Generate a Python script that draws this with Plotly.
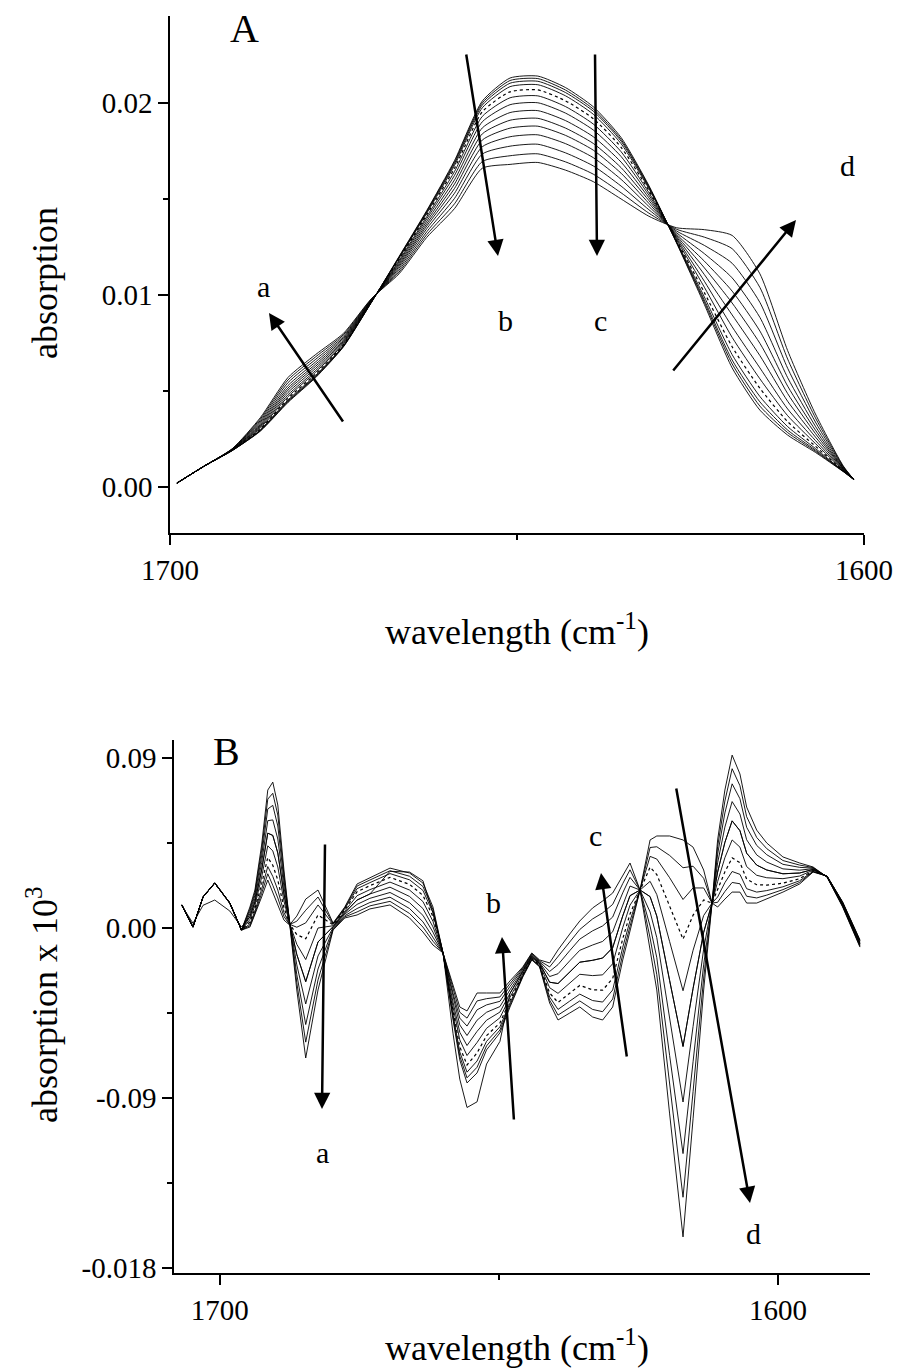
import plotly.graph_objects as go

# ---------------- Panel A data (absorption vs wavenumber) ----------------
wA = [1699, 1695, 1691, 1687, 1683, 1679, 1675, 1671, 1667, 1663, 1659, 1655, 1651,
      1647, 1643, 1639, 1635, 1631, 1627, 1623, 1619, 1615, 1611, 1607, 1603, 1601.5]

a00 = [0.0002, 0.0011, 0.0019, 0.0029, 0.0044, 0.0057, 0.0073, 0.0096, 0.0120, 0.0144, 0.0170, 0.0201, 0.0213, 0.0214, 0.0208, 0.0198, 0.0182, 0.0157, 0.0127, 0.0095, 0.0062, 0.0040, 0.0027, 0.0018, 0.0008, 0.0004]
a01 = [0.0002, 0.0011, 0.0019, 0.00292, 0.00444, 0.00574, 0.00732, 0.00961, 0.01197, 0.01436, 0.01693, 0.0200, 0.02117, 0.02127, 0.02067, 0.01968, 0.0181, 0.01565, 0.01272, 0.00962, 0.00641, 0.00421, 0.00283, 0.00186, 0.00081, 0.0004]
a02 = [0.0002, 0.0011, 0.00191, 0.00294, 0.00448, 0.00577, 0.00734, 0.00961, 0.01195, 0.01432, 0.01685, 0.01989, 0.02103, 0.02113, 0.02054, 0.01957, 0.01801, 0.0156, 0.01275, 0.00973, 0.00661, 0.00443, 0.00296, 0.00192, 0.00082, 0.0004]
a03 = [0.0002, 0.0011, 0.00191, 0.00297, 0.00453, 0.00582, 0.00737, 0.00962, 0.01191, 0.01426, 0.01675, 0.01975, 0.02085, 0.02095, 0.02037, 0.01941, 0.01788, 0.01554, 0.01278, 0.00989, 0.00689, 0.00471, 0.00314, 0.0020, 0.00083, 0.0004]
a04 = [0.0002, 0.0011, 0.00192, 0.00301, 0.00461, 0.00589, 0.00741, 0.00963, 0.01186, 0.01418, 0.0166, 0.01954, 0.02058, 0.02068, 0.02011, 0.01918, 0.01769, 0.01544, 0.01283, 0.01012, 0.0073, 0.00514, 0.0034, 0.00212, 0.00085, 0.0004]
a05 = [0.0002, 0.0011, 0.00192, 0.00306, 0.0047, 0.00598, 0.00746, 0.00965, 0.01179, 0.01408, 0.01643, 0.0193, 0.02027, 0.02037, 0.01981, 0.0189, 0.01746, 0.01533, 0.01288, 0.0104, 0.00779, 0.00563, 0.00371, 0.00226, 0.00087, 0.0004]
a06 = [0.0002, 0.0011, 0.00193, 0.00312, 0.0048, 0.00607, 0.00752, 0.00966, 0.01172, 0.01397, 0.01623, 0.01902, 0.01991, 0.02001, 0.01947, 0.01859, 0.01721, 0.0152, 0.01295, 0.01071, 0.00834, 0.0062, 0.00406, 0.00242, 0.00089, 0.0004]
a07 = [0.0002, 0.0011, 0.00194, 0.00318, 0.00492, 0.00618, 0.00758, 0.00968, 0.01164, 0.01384, 0.0160, 0.0187, 0.0195, 0.0196, 0.01908, 0.01824, 0.01692, 0.01506, 0.01302, 0.01106, 0.00896, 0.00684, 0.00446, 0.0026, 0.00092, 0.0004]
a08 = [0.0002, 0.0011, 0.00195, 0.00324, 0.00504, 0.00629, 0.00764, 0.0097, 0.01156, 0.01371, 0.01578, 0.01839, 0.0191, 0.0192, 0.01869, 0.01789, 0.01663, 0.01492, 0.01309, 0.01141, 0.00958, 0.00748, 0.00486, 0.00278, 0.00095, 0.0004]
a09 = [0.0002, 0.0011, 0.00196, 0.00331, 0.00515, 0.0064, 0.00771, 0.00972, 0.01148, 0.01359, 0.01555, 0.01807, 0.01869, 0.01879, 0.01831, 0.01754, 0.01634, 0.01477, 0.01316, 0.01176, 0.0102, 0.00812, 0.00525, 0.00296, 0.00097, 0.0004]
a10 = [0.0002, 0.0011, 0.00197, 0.00338, 0.00528, 0.00652, 0.00778, 0.00974, 0.01139, 0.01345, 0.0153, 0.01772, 0.01824, 0.01834, 0.01788, 0.01715, 0.01602, 0.01461, 0.01324, 0.01215, 0.01089, 0.00883, 0.00569, 0.00316, 0.0010, 0.0004]
a11 = [0.0002, 0.0011, 0.00198, 0.00345, 0.00543, 0.00665, 0.00785, 0.00976, 0.01129, 0.01329, 0.01503, 0.01734, 0.01775, 0.01785, 0.0174, 0.01672, 0.01567, 0.01444, 0.01333, 0.01258, 0.01165, 0.00961, 0.00618, 0.00338, 0.00104, 0.0004]
a12 = [0.0002, 0.0011, 0.00199, 0.00353, 0.00557, 0.00678, 0.00793, 0.00978, 0.01119, 0.01314, 0.01475, 0.01695, 0.01725, 0.01735, 0.01693, 0.01629, 0.01532, 0.01426, 0.01342, 0.01301, 0.01241, 0.01039, 0.00666, 0.0036, 0.00107, 0.0004]
a13 = [0.0002, 0.0011, 0.0020, 0.0036, 0.0057, 0.0069, 0.0080, 0.0098, 0.0111, 0.0130, 0.0145, 0.0166, 0.0168, 0.0169, 0.0165, 0.0159, 0.0150, 0.0141, 0.0135, 0.0134, 0.0131, 0.0111, 0.0071, 0.0038, 0.0011, 0.0004]

spectra_A = [a00, a01, a02, a03, a04, a05, a06, a07, a08, a09, a10, a11, a12, a13]
dotted_A = 4

# ---------------- Panel B data (difference / derivative spectra) ----------------
wB = [1706.8, 1704.8, 1703.0, 1700.9, 1698.2, 1696.1, 1694.6, 1693.7, 1692.5, 1691.4,
      1690.5, 1689.6, 1688.5, 1687.5, 1686.2, 1684.6, 1682.4, 1679.7, 1677.6, 1675.4,
      1673.1, 1669.5, 1666.0, 1663.6, 1661.8, 1660.0, 1658.2, 1657.0, 1655.7, 1653.9,
      1652.2, 1649.8, 1648.0, 1645.7, 1644.1, 1642.7, 1640.9, 1639.4, 1637.3, 1635.5,
      1633.2, 1631.4, 1629.6, 1627.8, 1626.5, 1624.7, 1622.9, 1621.7, 1619.4, 1617.0,
      1615.2, 1613.3, 1611.8, 1610.8, 1609.5, 1608.2, 1606.8, 1605.6, 1603.8, 1602.0,
      1599.1, 1596.1, 1593.7, 1591.2, 1588.4, 1585.3]

b0 = [0.0122, 0.0005, 0.0164, 0.0238, 0.0132, -0.0011, 0.0005, 0.0069, 0.0164, 0.0254, 0.0185, 0.0122, 0.0042, 0.0016, 0.0063, 0.0153, 0.0201, 0.0026, 0.0111, 0.0233, 0.0265, 0.0317, 0.0291, 0.0238, 0.0111, -0.0132, -0.0487, -0.0698, -0.0820, -0.0767, -0.0645, -0.0555, -0.0418, -0.0259, -0.0169, -0.0206, -0.0397, -0.0487, -0.0450, -0.0418, -0.0471, -0.0487, -0.0418, -0.0169, -0.0016, 0.0201, 0.0466, 0.0487, 0.0487, 0.0466, 0.0428, 0.0307, 0.0132, 0.0111, 0.0153, 0.0190, 0.0190, 0.0132, 0.0132, 0.0153, 0.0190, 0.0233, 0.0296, 0.0275, 0.0138, -0.0063]
b1 = [0.0122, 0.0005, 0.0164, 0.0238, 0.0132, -0.0011, 0.0012, 0.0078, 0.0183, 0.0287, 0.0226, 0.0159, 0.0061, 0.0018, 0.0036, 0.0094, 0.0164, 0.0023, 0.0107, 0.0222, 0.0254, 0.0303, 0.0274, 0.0220, 0.0097, -0.0132, -0.0474, -0.0678, -0.0793, -0.0737, -0.0624, -0.0540, -0.0408, -0.0255, -0.0166, -0.0203, -0.0382, -0.0461, -0.0421, -0.0386, -0.0431, -0.0443, -0.0376, -0.0138, 0.0009, 0.0201, 0.0426, 0.0430, 0.0384, 0.0319, 0.0327, 0.0263, 0.0132, 0.0136, 0.0193, 0.0241, 0.0234, 0.0168, 0.0159, 0.0174, 0.0203, 0.0241, 0.0298, 0.0275, 0.0136, -0.0066]
b2 = [0.0122, 0.0005, 0.0164, 0.0238, 0.0132, -0.0011, 0.0021, 0.0089, 0.0205, 0.0325, 0.0273, 0.0201, 0.0082, 0.0020, 0.0004, 0.0027, 0.0122, 0.0020, 0.0102, 0.0208, 0.0240, 0.0288, 0.0255, 0.0199, 0.0081, -0.0132, -0.0460, -0.0656, -0.0763, -0.0704, -0.0600, -0.0523, -0.0397, -0.0251, -0.0163, -0.0200, -0.0365, -0.0431, -0.0387, -0.0350, -0.0384, -0.0392, -0.0328, -0.0102, 0.0038, 0.0201, 0.0379, 0.0365, 0.0266, 0.0151, 0.0212, 0.0212, 0.0132, 0.0164, 0.0240, 0.0299, 0.0284, 0.0208, 0.0190, 0.0198, 0.0218, 0.0250, 0.0300, 0.0274, 0.0134, -0.0069]
b3 = [0.0122, 0.0005, 0.0164, 0.0238, 0.0132, -0.0011, 0.0032, 0.0102, 0.0233, 0.0373, 0.0332, 0.0254, 0.0108, 0.0023, -0.0035, -0.0057, 0.0069, 0.0017, 0.0096, 0.0192, 0.0224, 0.0268, 0.0231, 0.0173, 0.0061, -0.0132, -0.0442, -0.0628, -0.0725, -0.0661, -0.0570, -0.0502, -0.0383, -0.0246, -0.0160, -0.0197, -0.0344, -0.0394, -0.0345, -0.0304, -0.0327, -0.0329, -0.0267, -0.0057, 0.0074, 0.0201, 0.0322, 0.0283, 0.0119, -0.0059, 0.0068, 0.0148, 0.0132, 0.0200, 0.0297, 0.0371, 0.0346, 0.0259, 0.0229, 0.0227, 0.0237, 0.0261, 0.0303, 0.0274, 0.0131, -0.0073]
b4 = [0.0122, 0.0005, 0.0164, 0.0238, 0.0132, -0.0011, 0.0045, 0.0119, 0.0269, 0.0435, 0.0408, 0.0323, 0.0143, 0.0026, -0.0086, -0.0167, 0.0000, 0.0012, 0.0089, 0.0171, 0.0203, 0.0243, 0.0201, 0.0140, 0.0035, -0.0132, -0.0419, -0.0592, -0.0675, -0.0606, -0.0531, -0.0475, -0.0366, -0.0239, -0.0155, -0.0192, -0.0316, -0.0346, -0.0291, -0.0245, -0.0252, -0.0248, -0.0189, 0.0002, 0.0121, 0.0201, 0.0247, 0.0177, -0.0072, -0.0332, -0.0118, 0.0066, 0.0132, 0.0246, 0.0372, 0.0466, 0.0428, 0.0325, 0.0279, 0.0266, 0.0261, 0.0275, 0.0306, 0.0273, 0.0128, -0.0077]
b5 = [0.0122, 0.0005, 0.0164, 0.0238, 0.0132, -0.0011, 0.0060, 0.0138, 0.0307, 0.0502, 0.0490, 0.0397, 0.0180, 0.0030, -0.0140, -0.0284, -0.0074, 0.0007, 0.0081, 0.0148, 0.0180, 0.0216, 0.0167, 0.0103, 0.0006, -0.0132, -0.0393, -0.0552, -0.0622, -0.0547, -0.0488, -0.0445, -0.0346, -0.0231, -0.0150, -0.0187, -0.0287, -0.0294, -0.0233, -0.0181, -0.0171, -0.0159, -0.0104, 0.0064, 0.0171, 0.0201, 0.0166, 0.0063, -0.0278, -0.0627, -0.0320, -0.0023, 0.0132, 0.0296, 0.0453, 0.0567, 0.0515, 0.0396, 0.0333, 0.0307, 0.0287, 0.0291, 0.0310, 0.0272, 0.0124, -0.0083]
b6 = [0.0122, 0.0005, 0.0164, 0.0238, 0.0132, -0.0011, 0.0075, 0.0156, 0.0346, 0.0568, 0.0572, 0.0471, 0.0217, 0.0033, -0.0195, -0.0402, -0.0148, 0.0002, 0.0073, 0.0125, 0.0157, 0.0188, 0.0134, 0.0067, -0.0022, -0.0132, -0.0368, -0.0513, -0.0569, -0.0488, -0.0446, -0.0416, -0.0327, -0.0224, -0.0145, -0.0182, -0.0257, -0.0242, -0.0174, -0.0118, -0.0090, -0.0071, -0.0020, 0.0127, 0.0222, 0.0201, 0.0085, -0.0051, -0.0484, -0.0921, -0.0521, -0.0112, 0.0132, 0.0345, 0.0534, 0.0669, 0.0603, 0.0467, 0.0387, 0.0349, 0.0313, 0.0306, 0.0314, 0.0272, 0.0120, -0.0088]
b7 = [0.0122, 0.0005, 0.0164, 0.0238, 0.0132, -0.0011, 0.0089, 0.0173, 0.0381, 0.0630, 0.0649, 0.0540, 0.0251, 0.0037, -0.0246, -0.0511, -0.0217, -0.0003, 0.0065, 0.0103, 0.0135, 0.0163, 0.0103, 0.0033, -0.0048, -0.0132, -0.0345, -0.0477, -0.0519, -0.0433, -0.0407, -0.0388, -0.0309, -0.0217, -0.0140, -0.0177, -0.0230, -0.0194, -0.0120, -0.0059, -0.0015, 0.0011, 0.0058, 0.0186, 0.0268, 0.0201, 0.0010, -0.0157, -0.0675, -0.1194, -0.0708, -0.0195, 0.0132, 0.0391, 0.0609, 0.0763, 0.0684, 0.0533, 0.0437, 0.0388, 0.0337, 0.0321, 0.0317, 0.0271, 0.0117, -0.0093]
b8 = [0.0122, 0.0005, 0.0164, 0.0238, 0.0132, -0.0011, 0.0100, 0.0188, 0.0412, 0.0682, 0.0713, 0.0598, 0.0281, 0.0039, -0.0289, -0.0604, -0.0275, -0.0007, 0.0059, 0.0085, 0.0117, 0.0141, 0.0077, 0.0005, -0.0070, -0.0132, -0.0325, -0.0446, -0.0477, -0.0386, -0.0374, -0.0365, -0.0294, -0.0211, -0.0136, -0.0173, -0.0206, -0.0153, -0.0074, -0.0008, 0.0048, 0.0080, 0.0125, 0.0235, 0.0308, 0.0201, -0.0053, -0.0247, -0.0837, -0.1425, -0.0866, -0.0265, 0.0132, 0.0431, 0.0672, 0.0843, 0.0753, 0.0589, 0.0479, 0.0420, 0.0357, 0.0333, 0.0320, 0.0270, 0.0114, -0.0097]
b9 = [0.0122, 0.0005, 0.0164, 0.0238, 0.0132, -0.0011, 0.0111, 0.0201, 0.0439, 0.0730, 0.0772, 0.0651, 0.0307, 0.0042, -0.0328, -0.0688, -0.0328, -0.0011, 0.0053, 0.0069, 0.0101, 0.0122, 0.0053, -0.0021, -0.0090, -0.0132, -0.0307, -0.0418, -0.0439, -0.0344, -0.0344, -0.0344, -0.0280, -0.0206, -0.0132, -0.0169, -0.0185, -0.0116, -0.0032, 0.0037, 0.0106, 0.0143, 0.0185, 0.0280, 0.0344, 0.0201, -0.0111, -0.0328, -0.0984, -0.1635, -0.1010, -0.0328, 0.0132, 0.0466, 0.0730, 0.0915, 0.0815, 0.0640, 0.0518, 0.0450, 0.0376, 0.0344, 0.0323, 0.0270, 0.0111, -0.0101]
bO = [0.0118, 0.0025, 0.0120, 0.0148, 0.0090, 0.0005, 0.0060, 0.0138, 0.0307, 0.0502, 0.0490, 0.0397, 0.0180, 0.0030, -0.0140, -0.0284, -0.0074, 0.0007, 0.0081, 0.0148, 0.0180, 0.0300, 0.0296, 0.0250, 0.0080, -0.0132, -0.0560, -0.0800, -0.0950, -0.0920, -0.0720, -0.0600, -0.0346, -0.0231, -0.0150, -0.0187, -0.0287, -0.0294, -0.0233, -0.0181, -0.0171, -0.0159, -0.0104, 0.0064, 0.0171, 0.0201, 0.0166, 0.0063, -0.0278, -0.0627, -0.0320, -0.0023, 0.0132, 0.0296, 0.0453, 0.0567, 0.0515, 0.0396, 0.0333, 0.0307, 0.0287, 0.0291, 0.0310, 0.0272, 0.0124, -0.0083]

spectra_B = [b0, b1, b2, b3, b4, b5, b6, b7, b8, b9, bO]
dotted_B = 3

# tick labels
xtick_vals = [1700, 1600]
xtick_text = ["1700", "1600"]
yA_vals = [0.0, 0.01, 0.02]
yA_text = ["0.00", "0.01", "0.02"]
yB_vals = [0.09, 0.0, -0.09, -0.18]
yB_text = ["0.09", "0.00", "-0.09", "-0.018"]

FONT = "Liberation Serif, Times New Roman, serif"
W, H = 898, 1372


def PX(px):
    return px / W


def PY(py):
    return 1 - py / H


fig = go.Figure()
for i, s in enumerate(spectra_A):
    fig.add_trace(go.Scatter(
        x=wA, y=s, mode="lines", xaxis="x", yaxis="y", hoverinfo="skip",
        line=dict(color="black", width=1.2 if i == dotted_A else 0.9,
                  shape="spline", smoothing=0.6,
                  dash="dot" if i == dotted_A else "solid")))
for i, s in enumerate(spectra_B):
    fig.add_trace(go.Scatter(
        x=wB, y=s, mode="lines", xaxis="x2", yaxis="y2", hoverinfo="skip",
        line=dict(color="black", width=1.2 if i == dotted_B else 0.9,
                  dash="dot" if i == dotted_B else "solid")))


def ax_common():
    return dict(showline=True, linecolor="black", linewidth=1.5, mirror=False,
                showgrid=False, zeroline=False, ticks="outside", ticklen=10,
                tickwidth=1.5, tickcolor="black", automargin=False,
                tickfont=dict(family=FONT, size=29, color="black"))


def minor(vals):
    return dict(tickmode="array", tickvals=vals, ticks="outside", ticklen=5,
                tickwidth=1.5, tickcolor="black", showgrid=False)


fig.update_layout(
    width=W, height=H, margin=dict(l=0, r=0, t=0, b=0),
    paper_bgcolor="white", plot_bgcolor="white", showlegend=False,
    font=dict(family=FONT, color="black"),
    xaxis=dict(domain=[PX(170), PX(864)], anchor="y", range=[1700, 1600],
               tickmode="array", tickvals=xtick_vals, ticktext=xtick_text,
               minor=minor([1650]), **ax_common()),
    yaxis=dict(domain=[PY(533), PY(16)], anchor="x", range=[-0.0024, 0.02453],
               tickmode="array", tickvals=yA_vals, ticktext=yA_text,
               minor=minor([0.005, 0.015]), **ax_common()),
    xaxis2=dict(domain=[PX(174), PX(870)], anchor="y2", range=[1708.2, 1583.5],
                tickmode="array", tickvals=xtick_vals, ticktext=xtick_text,
                minor=minor([1650]), **ax_common()),
    yaxis2=dict(domain=[PY(1273), PY(740)], anchor="x2", range=[-0.1826, 0.0995],
                tickmode="array", tickvals=yB_vals, ticktext=yB_text,
                minor=minor([0.045, -0.045, -0.135]), **ax_common()),
)

annotations = []
# arrows: (tip, tail) in page pixels
arrows = [((269, 313), (344, 423)), ((498, 256), (466, 53)), ((597, 256), (595, 53)),
          ((796, 220), (672, 372)),
          ((322, 1109), (325, 843)), ((502, 937), (514, 1121)), ((601, 873), (627, 1058)),
          ((750, 1203), (676, 787))]
for (tx, ty), (sx, sy) in arrows:
    annotations.append(dict(x=PX(tx), y=PY(ty), xref="paper", yref="paper", text="",
                            showarrow=True, ax=sx - tx, ay=sy - ty,
                            axref="pixel", ayref="pixel", arrowhead=2,
                            arrowsize=1.3, arrowwidth=2.5, arrowcolor="black",
                            standoff=0, startstandoff=0))

labels = [("A", 244, 28, 40), ("a", 263, 287, 30), ("b", 505, 320, 30), ("c", 600, 320, 30),
          ("d", 847, 165, 30),
          ("B", 226, 752, 40), ("a", 322, 1152, 30), ("b", 493, 902, 30), ("c", 595, 835, 30),
          ("d", 753, 1233, 30)]
for t, px, py, sz in labels:
    annotations.append(dict(x=PX(px), y=PY(py), xref="paper", yref="paper", text=t,
                            showarrow=False, xanchor="center", yanchor="middle",
                            font=dict(family=FONT, size=sz, color="black")))

titles = [("absorption", 45, 283, -90), ("wavelength (cm<sup>-1</sup>)", 517, 630, 0),
          ("absorption x 10<sup>3</sup>", 42, 1005, -90),
          ("wavelength (cm<sup>-1</sup>)", 517, 1345, 0)]
for t, px, py, ang in titles:
    annotations.append(dict(x=PX(px), y=PY(py), xref="paper", yref="paper", text=t,
                            showarrow=False, xanchor="center", yanchor="middle",
                            textangle=ang,
                            font=dict(family=FONT, size=36, color="black")))

fig.update_layout(annotations=annotations)
# remove the browser's default 8px body margin so the figure fills the window exactly
fig.write_html("out.html", config={"displayModeBar": False},
               post_script="document.body.style.margin='0';document.body.style.overflow='hidden';")
